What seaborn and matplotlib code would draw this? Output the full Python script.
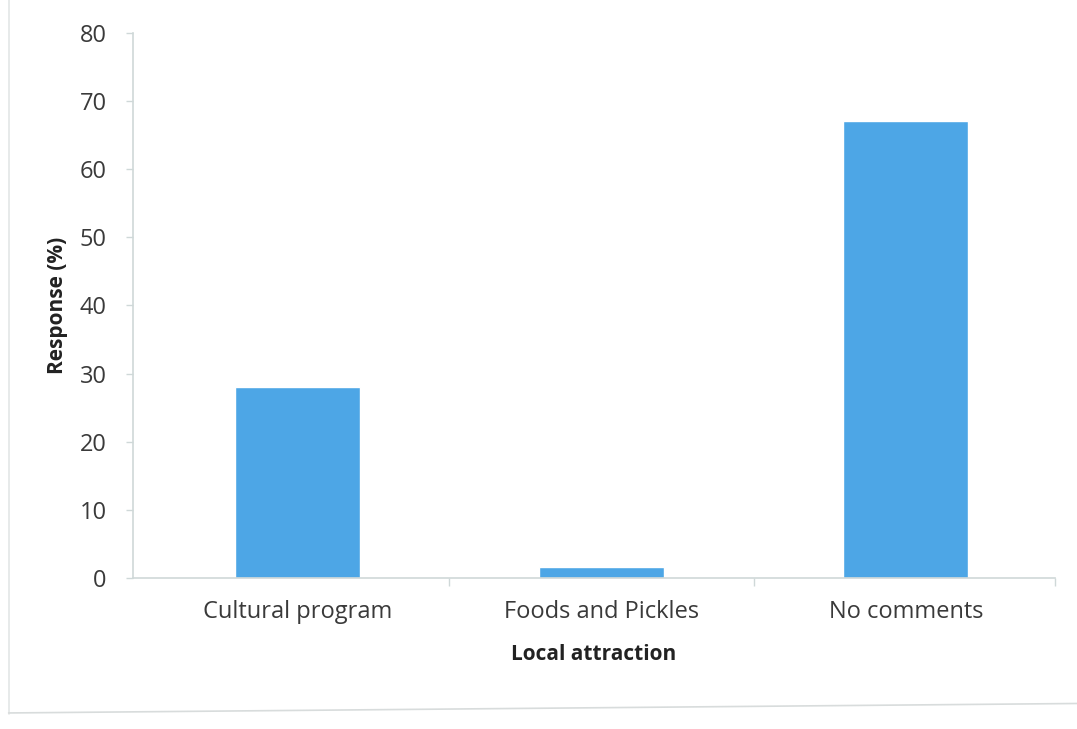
import matplotlib
matplotlib.use("Agg")
import matplotlib.pyplot as plt
import seaborn as sns
import pandas as pd
from matplotlib.ticker import FixedLocator

categories = ["Cultural program", "Foods and Pickles", "No comments"]
values = [28.0, 1.6, 67.0]
yticks = [0, 10, 20, 30, 40, 50, 60, 70, 80]

sns.set_theme(style="white")
plt.rcParams['font.family'] = ['Open Sans', 'DejaVu Sans']

df = pd.DataFrame({"Local attraction": categories, "Response (%)": values})

fig = plt.figure(figsize=(10.77, 7.29), dpi=100)
ax = fig.add_axes([0.1235, 0.207, 0.856, 0.748])

sns.barplot(data=df, x="Local attraction", y="Response (%)", color="#4da6e6",
            saturation=1, width=0.41, ax=ax)

ax.set_ylim(0, 80)
ax.set_xlim(-0.54, 2.49)
ax.set_yticks(yticks)
ax.set_yticklabels([str(t) for t in yticks], fontsize=17, color="#3a3a3a")
ax.tick_params(axis="y", length=5, color="#cfd8d8", width=1, pad=14, left=True)
ax.tick_params(axis="x", length=0, pad=16, labelsize=17, labelcolor="#3a3a3a")
ax.xaxis.set_minor_locator(FixedLocator([0.5, 1.5, 2.49]))
ax.tick_params(axis="x", which="minor", length=6, color="#cfd8d8", width=1, bottom=True)

for s in ["top", "right"]:
    ax.spines[s].set_visible(False)
for s in ["left", "bottom"]:
    ax.spines[s].set_color("#cfd8d8")
    ax.spines[s].set_linewidth(1.2)

ax.set_ylabel("Response (%)", fontsize=15, fontweight="bold", color="#222222", labelpad=8)
ax.set_xlabel("Local attraction", fontsize=15, fontweight="bold", color="#222222", labelpad=14)

# chart-area border lines
fig.add_artist(plt.Line2D([0.008, 0.008], [0.02, 1.0], color="#e3e6e6", lw=1.2))
fig.add_artist(plt.Line2D([0.008, 1.0], [0.022, 0.035], color="#d8dcdc", lw=1.2))

fig.savefig("out.png", dpi=100, facecolor="white")
